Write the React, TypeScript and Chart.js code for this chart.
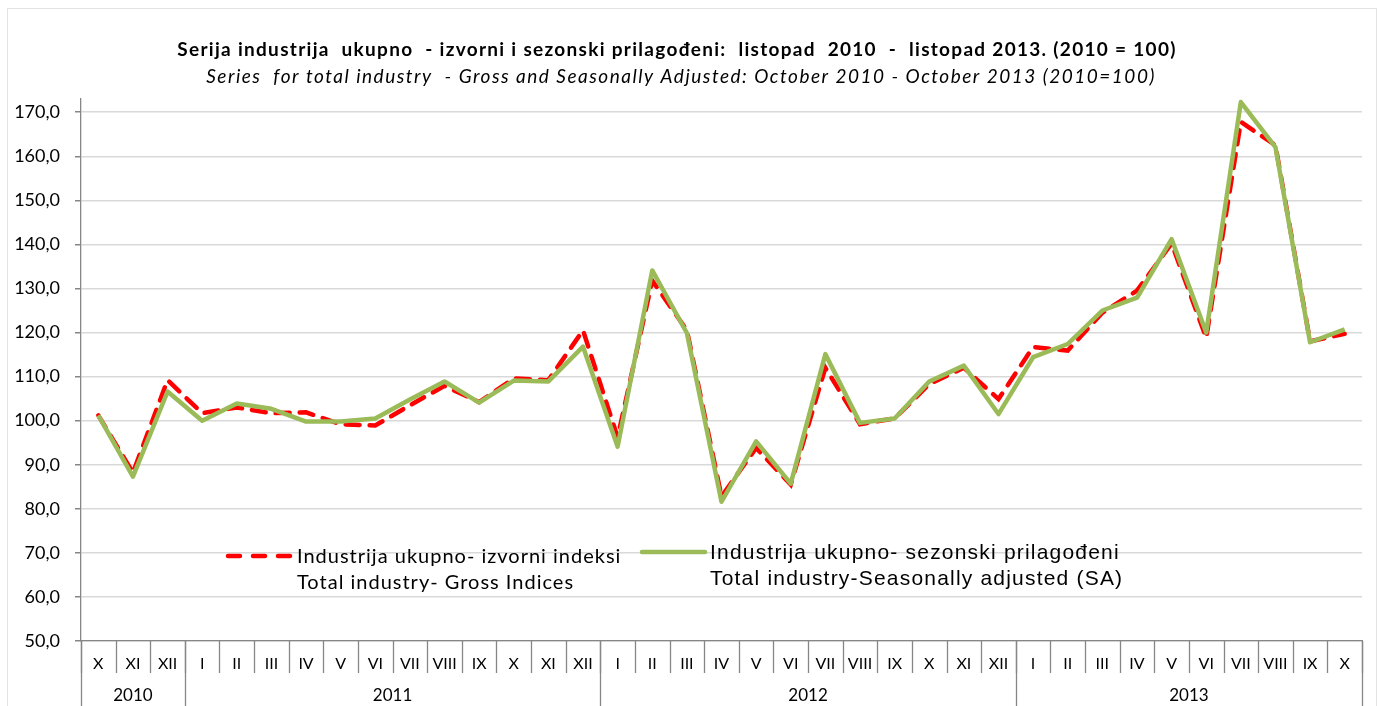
import React, { useEffect, useRef } from "react";
import { Chart, registerables } from "chart.js";

Chart.register(...registerables);

const months = [
  "X", "XI", "XII",
  "I", "II", "III", "IV", "V", "VI", "VII", "VIII", "IX", "X", "XI", "XII",
  "I", "II", "III", "IV", "V", "VI", "VII", "VIII", "IX", "X", "XI", "XII",
  "I", "II", "III", "IV", "V", "VI", "VII", "VIII", "IX", "X",
];

const yearLabels = ["2010", "2011", "2012", "2013"];
const yearMonthCounts = [3, 12, 12, 10];

const grossValues = [
  101.2, 88.2, 109.2,
  101.7, 103.0, 101.7, 101.9, 99.2, 98.9, 103.5, 107.9, 104.2, 109.6, 109.2, 120.5,
  96.2, 131.8, 120.5, 82.8, 93.8, 85.5, 112.0, 99.2, 100.5, 108.3, 112.0, 104.9,
  116.7, 115.9, 124.5, 129.5, 140.2, 118.8, 167.8, 162.5, 118.0, 119.7,
];

const saValues = [
  101.2, 87.3, 106.6,
  100.0, 103.9, 102.7, 99.8, 99.8, 100.5, 104.8, 108.9, 104.1, 109.1, 108.9, 116.8,
  94.1, 134.1, 119.9, 81.6, 95.3, 85.7, 115.1, 99.5, 100.5, 108.9, 112.5, 101.5,
  114.4, 117.4, 125.0, 127.9, 141.2, 120.0, 172.3, 162.1, 117.8, 120.7,
];

const grossLabel = ["Industrija ukupno- izvorni indeksi", "Total industry- Gross Indices"];
const saLabel = ["Industrija ukupno- sezonski prilagođeni", "Total industry-Seasonally adjusted (SA)"];

const titleText = "Serija industrija  ukupno  - izvorni i sezonski prilagođeni:  listopad  2010  -  listopad 2013. (2010 = 100)";
const subtitleText = "Series  for total industry  - Gross and Seasonally Adjusted: October 2010 - October 2013 (2010=100)";

const yMin = 50;
const yMax = 173;
const yStep = 10;

const FONT = "Lato, 'Open Sans', sans-serif";

function setSpacing(ctx: any, px: number) {
  if ("letterSpacing" in ctx) ctx.letterSpacing = px + "px";
}

const framePlugin = {
  id: "frame",
  beforeDraw(chart: any) {
    const ctx = chart.ctx;
    ctx.save();
    ctx.fillStyle = "#ffffff";
    ctx.fillRect(0, 0, chart.width, chart.height);
    ctx.strokeStyle = "#e3e3e3";
    ctx.lineWidth = 1;
    ctx.strokeRect(7.5, 8.5, chart.width - 10, chart.height + 20);
    ctx.restore();
  },
};

const titlePlugin = {
  id: "stretchedTitle",
  afterDraw(chart: any) {
    const ctx = chart.ctx;
    ctx.save();
    ctx.fillStyle = "#000000";
    ctx.textAlign = "center";
    ctx.textBaseline = "middle";
    ctx.font = `bold 19px ${FONT}`;
    setSpacing(ctx, 1.3);
    ctx.fillText(titleText, 677, 50);
    ctx.font = `italic 19px ${FONT}`;
    setSpacing(ctx, 1.5);
    ctx.fillText(subtitleText, 681, 77);
    ctx.restore();
  },
};

const xAxisPlugin = {
  id: "twoLevelX",
  afterDraw(chart: any) {
    const ctx = chart.ctx;
    const xs = chart.scales.x;
    const area = chart.chartArea;
    const bottom = area.bottom;
    ctx.save();
    ctx.strokeStyle = "#868686";
    ctx.lineWidth = 1.3;
    for (let i = 0; i <= months.length; i++) {
      const px = Math.round(xs.getPixelForValue(i - 0.5)) + 0.5;
      ctx.beginPath();
      ctx.moveTo(px, bottom);
      ctx.lineTo(px, bottom + 32);
      ctx.stroke();
    }
    let idx = 0;
    const bounds = [0];
    yearMonthCounts.forEach((c) => {
      idx += c;
      bounds.push(idx);
    });
    bounds.forEach((b) => {
      const px = Math.round(xs.getPixelForValue(b - 0.5)) + 0.5;
      ctx.beginPath();
      ctx.moveTo(px, bottom);
      ctx.lineTo(px, chart.height);
      ctx.stroke();
    });
    ctx.fillStyle = "#000000";
    ctx.font = `16px ${FONT}`;
    ctx.textAlign = "center";
    ctx.textBaseline = "middle";
    months.forEach((m, i) => {
      ctx.fillText(m, xs.getPixelForValue(i), bottom + 23);
    });
    ctx.font = `17px ${FONT}`;
    yearLabels.forEach((y, k) => {
      const s = bounds[k];
      const e = bounds[k + 1] - 1;
      const cx = (xs.getPixelForValue(s) + xs.getPixelForValue(e)) / 2;
      ctx.fillText(y, cx, bottom + 55);
    });
    ctx.restore();
  },
};

const legendPlugin = {
  id: "customLegend",
  afterDraw(chart: any) {
    const ctx = chart.ctx;
    const ds = chart.data.datasets;
    ctx.save();
    ctx.strokeStyle = ds[0].borderColor;
    ctx.lineWidth = 4.5;
    ctx.setLineDash([12, 13]);
    ctx.lineCap = "round";
    ctx.beginPath();
    ctx.moveTo(228, 556);
    ctx.lineTo(290, 556);
    ctx.stroke();
    ctx.setLineDash([]);
    ctx.fillStyle = "#000000";
    ctx.textAlign = "left";
    ctx.textBaseline = "middle";
    ctx.font = `20px ${FONT}`;
    setSpacing(ctx, 1.0);
    ctx.fillText(ds[0].label[0], 297, 557);
    ctx.fillText(ds[0].label[1], 297, 583);
    ctx.strokeStyle = ds[1].borderColor;
    ctx.lineWidth = 4.5;
    ctx.beginPath();
    ctx.moveTo(642, 552);
    ctx.lineTo(705, 552);
    ctx.stroke();
    ctx.font = `21px 'Liberation Sans', Arial, sans-serif`;
    setSpacing(ctx, 1.2);
    ctx.fillText(ds[1].label[0], 710, 553);
    ctx.fillText(ds[1].label[1], 710, 579);
    ctx.restore();
  },
};

export default function App() {
  const canvasRef = useRef<HTMLCanvasElement | null>(null);

  useEffect(() => {
    document.body.style.margin = "0";
    const canvas = canvasRef.current;
    if (!canvas) return;
    const chart = new Chart(canvas, {
      type: "line",
      data: {
        labels: months,
        datasets: [
          {
            label: grossLabel as any,
            data: grossValues,
            borderColor: "#ff0000",
            borderWidth: 4.5,
            borderDash: [14, 10],
            borderCapStyle: "round",
            pointRadius: 0,
            tension: 0,
            fill: false,
            order: 1,
          },
          {
            label: saLabel as any,
            data: saValues,
            borderColor: "#9bbb59",
            borderWidth: 4.5,
            borderJoinStyle: "round",
            pointRadius: 0,
            tension: 0,
            fill: false,
            order: 0,
          },
        ],
      },
      options: {
        responsive: false,
        animation: false,
        layout: { padding: { left: 0, right: 17, top: 99, bottom: 57 } },
        plugins: {
          legend: { display: false },
          tooltip: { enabled: false },
          title: { display: false },
          subtitle: { display: false },
        },
        scales: {
          x: {
            type: "category",
            offset: true,
            grid: { display: false },
            border: { display: true, color: "#868686", width: 1.3 },
            ticks: { display: false },
          },
          y: {
            min: yMin,
            max: yMax,
            grid: {
              color: "#d9d9d9",
              lineWidth: 1.5,
              tickColor: "#868686",
              tickLength: 6,
            },
            border: { display: true, color: "#868686", width: 1.3 },
            ticks: {
              stepSize: yStep,
              includeBounds: false,
              color: "#000000",
              padding: 15,
              font: { family: FONT, size: 18 },
              callback: (v: any) => Number(v).toFixed(1).replace(".", ","),
            },
            afterFit: (s: any) => {
              s.width = 81;
            },
          },
        },
      },
      plugins: [framePlugin, titlePlugin, xAxisPlugin, legendPlugin],
    });
    return () => chart.destroy();
  }, []);

  return (
    <div style={{ width: 1379, height: 706 }}>
      <canvas ref={canvasRef} width={1379} height={706} style={{ display: "block" }} />
    </div>
  );
}
